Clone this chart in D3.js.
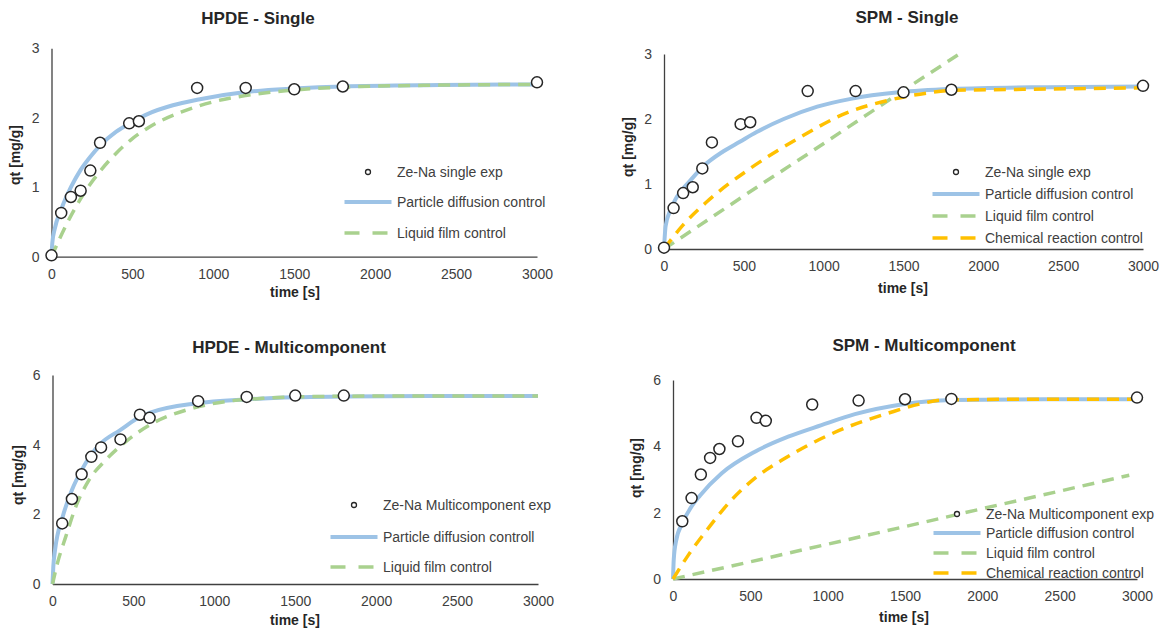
<!DOCTYPE html>
<html>
<head>
<meta charset="utf-8">
<script src="https://cdn.jsdelivr.net/npm/d3@7"></script>
<style>
  body { margin: 0; background: #fff; }
  svg { display: block; font-family: 'Liberation Sans', Arial, sans-serif; }
</style>
</head>
<body>
<svg id="chart" width="1176" height="629"></svg>
<script>
// experimental points
const singleTime = [0, 60, 120, 180, 240, 300, 480, 540, 900, 1200, 1500, 1800, 3000]
const singleQ = [0.02, 0.63, 0.86, 0.95, 1.24, 1.64, 1.92, 1.95, 2.43, 2.43, 2.41, 2.45, 2.51]
const hpdeMultiTime = [60, 120, 180, 240, 300, 420, 540, 600, 900, 1200, 1500, 1800]
const hpdeMultiQ = [1.74, 2.44, 3.15, 3.65, 3.92, 4.15, 4.86, 4.77, 5.25, 5.37, 5.41, 5.41]
const spmMultiTime = [60, 120, 180, 240, 300, 420, 540, 600, 900, 1200, 1500, 1800, 3000]
const spmMultiQ = [1.74, 2.44, 3.15, 3.65, 3.92, 4.15, 4.86, 4.77, 5.26, 5.38, 5.42, 5.43, 5.47]

// model curves
const hpdeSinglePDTime = [0, 5, 20, 60, 120, 180, 240, 300, 400, 500, 600, 750, 900, 1200, 1500, 1800, 2400, 3000]
const hpdeSinglePDQ = [0, 0.2, 0.4, 0.68, 1.0, 1.25, 1.44, 1.60, 1.80, 1.94, 2.06, 2.18, 2.26, 2.37, 2.42, 2.45, 2.47, 2.48]
const hpdeSingleLFTime = [0, 100, 200, 300, 400, 500, 600, 800, 1000, 1200, 1500, 1800, 2400, 3000]
const hpdeSingleLFQ = [0, 0.50, 0.91, 1.23, 1.49, 1.70, 1.86, 2.08, 2.23, 2.32, 2.40, 2.44, 2.47, 2.48]

const spmSinglePDTime = [0, 10, 40, 80, 160, 245, 370, 475, 580, 750, 960, 1170, 1470, 1800, 2400, 3000]
const spmSinglePDQ = [0, 0.35, 0.60, 0.80, 1.04, 1.27, 1.50, 1.65, 1.80, 2.00, 2.19, 2.31, 2.41, 2.46, 2.49, 2.50]
const spmSingleLFTime = [0, 300, 600, 900, 1200, 1500, 1850]
const spmSingleLFQ = [0, 0.49, 0.98, 1.46, 1.95, 2.44, 3.0]
const spmSingleCRTime = [0, 120, 270, 540, 840, 1140, 1410, 1650, 1800, 2400, 3000]
const spmSingleCRQ = [0, 0.37, 0.73, 1.24, 1.70, 2.09, 2.29, 2.40, 2.44, 2.46, 2.48]

const hpdeMultiPDTime = [0, 5, 16, 63, 120, 180, 237, 295, 418, 542, 604, 893, 1192, 1500, 1800, 2400, 3000]
const hpdeMultiPDQ = [0, 0.5, 0.98, 1.93, 2.70, 3.27, 3.70, 4.02, 4.42, 4.80, 4.92, 5.19, 5.30, 5.36, 5.38, 5.40, 5.40]
const hpdeMultiLFTime = [0, 30, 82, 144, 226, 329, 453, 618, 845, 1072, 1300, 1500, 1800, 2400, 3000]
const hpdeMultiLFQ = [0, 0.59, 1.36, 2.22, 2.99, 3.56, 4.09, 4.61, 5.02, 5.24, 5.33, 5.37, 5.39, 5.40, 5.40]

const spmMultiPDTime = [0, 5, 20, 60, 112, 175, 315, 530, 745, 960, 1176, 1488, 1800, 2400, 3000]
const spmMultiPDQ = [0, 0.6, 1.15, 1.68, 2.13, 2.52, 3.19, 3.84, 4.29, 4.64, 4.97, 5.27, 5.40, 5.42, 5.42]
const spmMultiLFTime = [0, 500, 1000, 1500, 2000, 2500, 2950]
const spmMultiLFQ = [0, 0.52, 1.05, 1.58, 2.12, 2.65, 3.13]
const spmMultiCRTime = [0, 99, 228, 368, 530, 724, 918, 1133, 1392, 1600, 1750, 2400, 3000]
const spmMultiCRQ = [0, 0.72, 1.53, 2.33, 3.04, 3.64, 4.14, 4.59, 5.00, 5.28, 5.40, 5.42, 5.42]

const timeTicks = [0, 500, 1000, 1500, 2000, 2500, 3000]
const singleTicks = [0, 1, 2, 3]
const multiTicks = [0, 2, 4, 6]

const zip = (ts, qs) => ts.map((t, i) => ({t: t, q: qs[i]}))

const styles = {
  pd: {color: '#9dc3e6', width: 4, dash: null},
  lf: {color: '#a9d18e', width: 3.5, dash: '12,8'},
  cr: {color: '#ffc000', width: 3.5, dash: '12,8'}
}

const panels = [
  {
    title: 'HPDE - Single', titleX: 258, titleY: 18,
    x0: 51.5, x1: 537, yBottom: 256.7, yTop: 48.3, yMax: 3, yTicks: singleTicks,
    xLabelX: 295, xLabelY: 292, yLabelX: 15, yLabelY: 155,
    exp: zip(singleTime, singleQ),
    curves: [
      {key: 'pd', data: zip(hpdeSinglePDTime, hpdeSinglePDQ)},
      {key: 'lf', data: zip(hpdeSingleLFTime, hpdeSingleLFQ)}
    ],
    legend: {cx: 368, textX: 397, rows: [172, 202, 233]},
    names: ['Ze-Na single exp', 'Particle diffusion control', 'Liquid film control']
  },
  {
    title: 'SPM - Single', titleX: 907, titleY: 17,
    x0: 664, x1: 1143, yBottom: 249, yTop: 54, yMax: 3, yTicks: singleTicks,
    xLabelX: 903, xLabelY: 288, yLabelX: 628, yLabelY: 147,
    exp: zip(singleTime, singleQ),
    curves: [
      {key: 'pd', data: zip(spmSinglePDTime, spmSinglePDQ)},
      {key: 'lf', data: zip(spmSingleLFTime, spmSingleLFQ)},
      {key: 'cr', data: zip(spmSingleCRTime, spmSingleCRQ)}
    ],
    legend: {cx: 956, textX: 985, rows: [172, 194, 216, 238]},
    names: ['Ze-Na single exp', 'Particle diffusion control', 'Liquid film control', 'Chemical reaction control']
  },
  {
    title: 'HPDE - Multicomponent', titleX: 289, titleY: 347,
    x0: 52.5, x1: 538, yBottom: 584, yTop: 375, yMax: 6, yTicks: multiTicks,
    xLabelX: 295, xLabelY: 620, yLabelX: 18, yLabelY: 475,
    exp: zip(hpdeMultiTime, hpdeMultiQ),
    curves: [
      {key: 'pd', data: zip(hpdeMultiPDTime, hpdeMultiPDQ)},
      {key: 'lf', data: zip(hpdeMultiLFTime, hpdeMultiLFQ)}
    ],
    legend: {cx: 354, textX: 383, rows: [505, 537, 567]},
    names: ['Ze-Na Multicomponent exp', 'Particle diffusion controll', 'Liquid film control']
  },
  {
    title: 'SPM - Multicomponent', titleX: 924, titleY: 345,
    x0: 673, x1: 1137, yBottom: 579, yTop: 380, yMax: 6, yTicks: multiTicks,
    xLabelX: 904, xLabelY: 617, yLabelX: 636, yLabelY: 468,
    exp: zip(spmMultiTime, spmMultiQ),
    curves: [
      {key: 'pd', data: zip(spmMultiPDTime, spmMultiPDQ)},
      {key: 'lf', data: zip(spmMultiLFTime, spmMultiLFQ)},
      {key: 'cr', data: zip(spmMultiCRTime, spmMultiCRQ)}
    ],
    legend: {cx: 957, textX: 986, rows: [514, 533, 553, 573]},
    names: ['Ze-Na Multicomponent exp', 'Particle diffusion control', 'Liquid film control', 'Chemical reaction control']
  }
]

const svg = d3.select('#chart')
const axisColor = '#404040'
const textColor = '#404040'

panels.forEach((p) => {
  const x = d3.scaleLinear().domain([0, 3000]).range([p.x0, p.x1])
  const y = d3.scaleLinear().domain([0, p.yMax]).range([p.yBottom, p.yTop])
  const g = svg.append('g').classed('panel', true)

  const xAxis = g.append('g')
    .attr('transform', 'translate(0,' + p.yBottom + ')')
    .call(d3.axisBottom(x).tickValues(timeTicks).tickFormat(d3.format('d'))
      .tickSize(0).tickSizeOuter(0).tickPadding(12))
  const yAxis = g.append('g')
    .attr('transform', 'translate(' + p.x0 + ',0)')
    .call(d3.axisLeft(y).tickValues(p.yTicks).tickFormat(d3.format('d'))
      .tickSize(0).tickSizeOuter(0).tickPadding(12))
  ;[xAxis, yAxis].forEach((a) => {
    a.select('path.domain').attr('stroke', axisColor).attr('stroke-width', 1.3)
    a.selectAll('text')
      .attr('font-family', 'Liberation Sans, Arial, sans-serif')
      .attr('font-size', 14)
      .attr('fill', textColor)
  })

  const line = d3.line()
    .x((d) => x(d.t))
    .y((d) => y(d.q))
    .curve(d3.curveMonotoneX)

  g.selectAll('path.model')
    .data(p.curves)
    .enter()
    .append('path')
    .classed('model', true)
    .attr('d', (d) => line(d.data))
    .attr('fill', 'none')
    .attr('stroke', (d) => styles[d.key].color)
    .attr('stroke-width', (d) => styles[d.key].width)
    .attr('stroke-dasharray', (d) => styles[d.key].dash)

  g.selectAll('circle.exp')
    .data(p.exp)
    .enter()
    .append('circle')
    .classed('exp', true)
    .attr('cx', (d) => x(d.t))
    .attr('cy', (d) => y(d.q))
    .attr('r', 5.5)
    .attr('fill', '#fff')
    .attr('stroke', '#262626')
    .attr('stroke-width', 1.5)

  // titles
  g.append('text')
    .text(p.title)
    .attr('x', p.titleX)
    .attr('y', p.titleY)
    .attr('dy', '0.35em')
    .attr('text-anchor', 'middle')
    .attr('font-size', 17)
    .attr('font-weight', 'bold')
    .attr('fill', '#262626')
  g.append('text')
    .text('time [s]')
    .attr('x', p.xLabelX)
    .attr('y', p.xLabelY)
    .attr('dy', '0.35em')
    .attr('text-anchor', 'middle')
    .attr('font-size', 14)
    .attr('font-weight', 'bold')
    .attr('fill', '#262626')
  g.append('text')
    .text('qt [mg/g]')
    .attr('transform', 'translate(' + p.yLabelX + ',' + p.yLabelY + ') rotate(-90)')
    .attr('dy', '0.35em')
    .attr('text-anchor', 'middle')
    .attr('font-size', 14)
    .attr('font-weight', 'bold')
    .attr('fill', '#262626')

  // legend
  const lg = g.append('g').classed('legend', true)
  lg.append('circle')
    .attr('cx', p.legend.cx)
    .attr('cy', p.legend.rows[0])
    .attr('r', 2.5)
    .attr('fill', '#fff')
    .attr('stroke', '#262626')
    .attr('stroke-width', 1.3)
  p.curves.forEach((c, i) => {
    lg.append('line')
      .attr('x1', p.legend.cx - 23.5)
      .attr('x2', p.legend.cx + 23.5)
      .attr('y1', p.legend.rows[i + 1])
      .attr('y2', p.legend.rows[i + 1])
      .attr('stroke', styles[c.key].color)
      .attr('stroke-width', styles[c.key].width)
      .attr('stroke-dasharray', styles[c.key].dash ? '15,13' : null)
  })
  lg.selectAll('text')
    .data(p.names)
    .enter()
    .append('text')
    .text((d) => d)
    .attr('x', p.legend.textX)
    .attr('y', (d, i) => p.legend.rows[i])
    .attr('dy', '0.35em')
    .attr('font-size', 14)
    .attr('fill', textColor)
})
</script>
</body>
</html>
